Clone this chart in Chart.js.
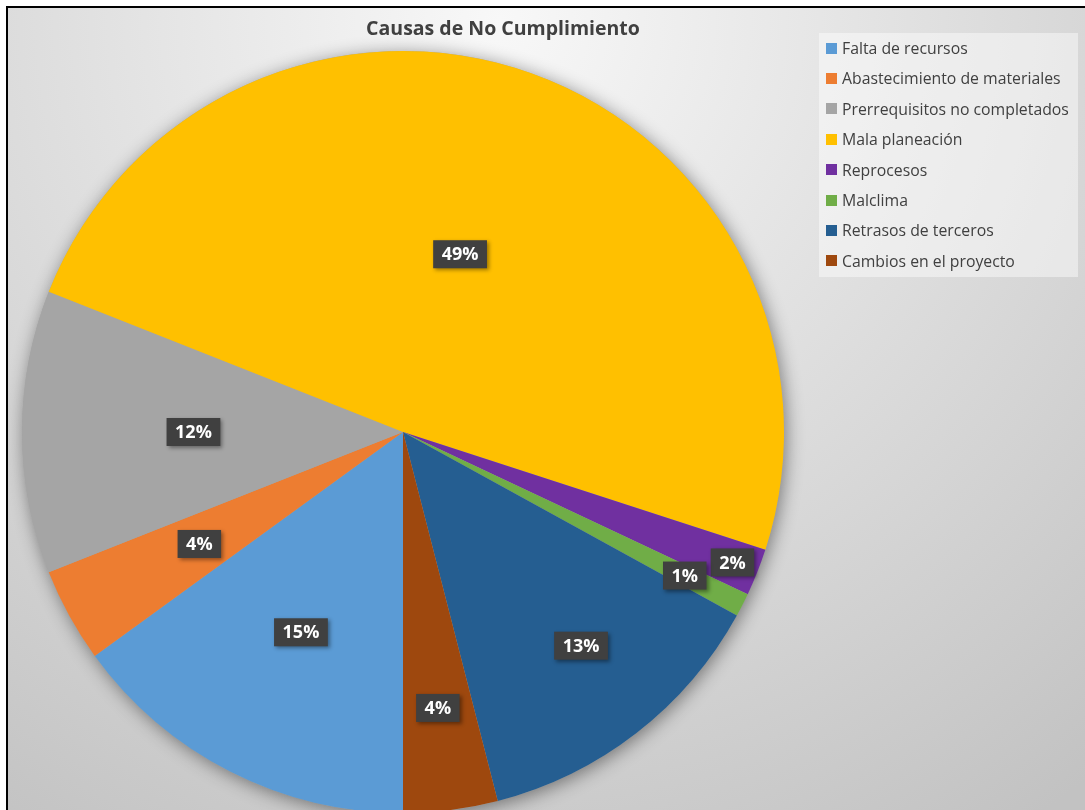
<!DOCTYPE html>
<html>
<head>
<meta charset="utf-8">
<title>Causas de No Cumplimiento</title>
<script src="https://cdn.jsdelivr.net/npm/chart.js@4.4.0/dist/chart.umd.min.js"></script>
<style>
  html, body { margin: 0; padding: 0; overflow: hidden; background: #fff; }
  #frame {
    position: absolute; left: 6px; top: 6px; width: 1100px; height: 830px;
    border-left: 2px solid #000; border-top: 2px solid #000;
    background: radial-gradient(circle at 492px 12px, #f8f8f8 0px, #c2c2c2 960px);
    font-family: "Open Sans", "Noto Sans", sans-serif;
  }
  #myChart { position: absolute; left: 0; top: 0; }
  #title {
    position: absolute; left: 0; top: 7px; width: 990px; line-height: 26px;
    text-align: center; font-weight: bold; font-size: 19.5px; color: #404040;
  }
  #legend {
    position: absolute; left: 811px; top: 25px; width: 259px; height: 244px;
    margin: 0; padding: 0; list-style: none;
    background: rgba(255, 255, 255, 0.45);
  }
  #legend li {
    position: relative; height: 30.4px; line-height: 30.4px;
    padding-left: 23px; font-size: 15.8px; color: #404040; white-space: nowrap;
  }
  #legend .swatch {
    position: absolute; left: 7px; top: 9.7px; width: 11px; height: 11px;
  }
</style>
</head>
<body>
<div id="frame">
  <canvas id="myChart" width="1077" height="822"></canvas>
  <div id="title">Causas de No Cumplimiento</div>
  <ul id="legend"></ul>
</div>
<script>
var causeLabels = [
    'Falta de recursos',
    'Abastecimiento de materiales',
    'Prerrequisitos no completados',
    'Mala planeación',
    'Reprocesos',
    'Malclima',
    'Retrasos de terceros',
    'Cambios en el proyecto'
];
var causeShares = [15, 4, 12, 49, 2, 1, 13, 4]; // % of total
var sliceColors = ['#5b9bd5', '#ed7d31', '#a5a5a5', '#ffc000', '#7030a0', '#70ad47', '#255e91', '#9e480e'];
// how far out from the centre each % box sits (share of the radius)
var labelDistance = [0.59, 0.61, 0.55, 0.49, 0.93, 0.83, 0.73, 0.73];
// small nudge of the box off the slice middle, in degrees (clockwise +)
var labelTurn = [0, 0, 0, -2, 0, 0, -2, 0];

/* ---------soft shadow under the whole pie--------- */
const pieShadow = {
    id: 'pieShadow',
    beforeDatasetsDraw(chart) {
        const arc = chart.getDatasetMeta(0).data[0];
        if (!arc) return;
        const ctx = chart.ctx;
        ctx.save();
        ctx.shadowColor = 'rgba(0, 0, 0, 0.45)';
        ctx.shadowBlur = 18;
        ctx.shadowOffsetX = 2;
        ctx.shadowOffsetY = 3;
        ctx.beginPath();
        ctx.arc(arc.x, arc.y, arc.outerRadius, 0, Math.PI * 2);
        ctx.fillStyle = '#a5a5a5';
        ctx.fill();
        ctx.restore();
    }
};

/* ---------dark boxes with the % of each slice--------- */
const sliceLabels = {
    id: 'sliceLabels',
    afterDatasetsDraw(chart) {
        const ctx = chart.ctx;
        const meta = chart.getDatasetMeta(0);
        const values = chart.data.datasets[0].data;
        ctx.save();
        ctx.font = 'bold 18px "Open Sans", sans-serif';
        ctx.textAlign = 'center';
        ctx.textBaseline = 'middle';
        meta.data.forEach((arc, i) => {
            const mid = (arc.startAngle + arc.endAngle) / 2 + labelTurn[i] * Math.PI / 180;
            const r = arc.outerRadius * labelDistance[i];
            const x = arc.x + Math.cos(mid) * r;
            const y = arc.y + Math.sin(mid) * r;
            const text = values[i] + '%';
            const w = ctx.measureText(text).width + 17;
            const h = 28;
            ctx.shadowColor = 'rgba(0, 0, 0, 0.4)';
            ctx.shadowBlur = 4;
            ctx.shadowOffsetX = 2;
            ctx.shadowOffsetY = 2;
            ctx.fillStyle = '#404040';
            ctx.fillRect(x - w / 2, y - h / 2, w, h);
            ctx.shadowColor = 'transparent';
            ctx.fillStyle = '#ffffff';
            ctx.fillText(text, x, y + 1);
        });
        ctx.restore();
    }
};

const data = {
    labels: causeLabels,
    datasets: [{
        data: causeShares,
        backgroundColor: sliceColors,
        borderWidth: 0,
        hoverBorderWidth: 0,
        hoverOffset: 0
    }]
};

const config = {
    type: 'pie',
    data,
    plugins: [pieShadow, sliceLabels],
    options: {
        responsive: false,
        animation: false,
        events: [],
        rotation: 180, // first slice starts at 6 o'clock
        layout: {
            padding: { left: 14, top: 43, right: 301, bottom: 17 }
        },
        plugins: {
            legend: { display: false },
            title: { display: false },
            tooltip: { enabled: false }
        }
    }
};

function buildLegend(chart) {
    const list = document.getElementById('legend');
    chart.data.labels.forEach((name, i) => {
        const li = document.createElement('li');
        const box = document.createElement('span');
        box.className = 'swatch';
        box.style.background = chart.data.datasets[0].backgroundColor[i];
        li.appendChild(box);
        li.appendChild(document.createTextNode(name));
        list.appendChild(li);
    });
}

var myChart = new Chart(document.getElementById('myChart'), config);
buildLegend(myChart);
</script>
</body>
</html>
